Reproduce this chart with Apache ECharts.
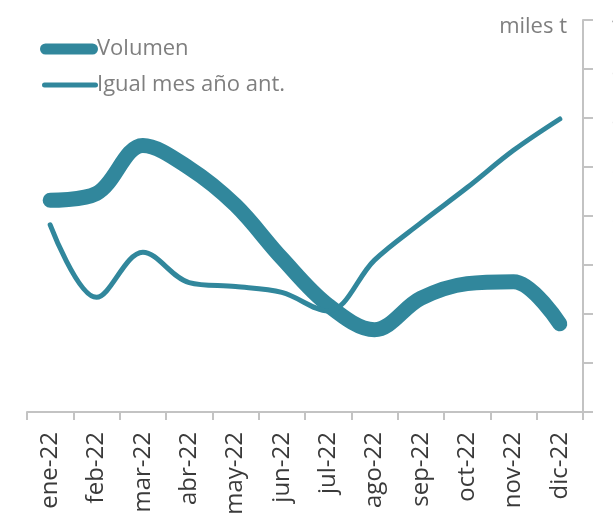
<!DOCTYPE html>
<html>
<head>
<meta charset="utf-8">
<script src="https://cdn.jsdelivr.net/npm/echarts@6/dist/echarts.min.js"></script>
<style>
  html, body { margin: 0; padding: 0; background: #ffffff; }
  #chart { width: 613px; height: 518px; }
</style>
</head>
<body>
<div id="chart"></div>
<script>
// Monthly volume (miles t) for 2022 and the same month of the previous year
var months = ['ene-22', 'feb-22', 'mar-22', 'abr-22', 'may-22', 'jun-22',
              'jul-22', 'ago-22', 'sep-22', 'oct-22', 'nov-22', 'dic-22'];
var volumen = [216, 223, 272, 249, 211, 157, 109, 84, 116, 131, 133, 90];
var igualMesAnoAnt = [191, 117, 163, 132, 128, 122, 103, 155, 193, 229, 267, 299];
var yTicks = { min: 0, max: 400, interval: 50 };

var teal = '#31879c';
var grayText = '#7f7f7f';
var axisGray = '#c3c3c3';
var font = 'Open Sans';

var chart = echarts.init(document.getElementById('chart'), null, { renderer: 'canvas' });

chart.setOption({
  backgroundColor: '#ffffff',
  animation: false,
  grid: {
    left: 27, right: 30, top: 20, bottom: 106,
    containLabel: false,
    outerBoundsMode: 'none'
  },
  legend: [
    {
      data: ['Volumen'],
      left: 35, top: 33,
      itemWidth: 58, itemHeight: 11,
      icon: 'path://M5.5,0 L52.5,0 A5.5,5.5 0 0 1 52.5,11 L5.5,11 A5.5,5.5 0 0 1 5.5,0 Z',
      itemStyle: { color: teal },
      textStyle: { color: grayText, fontSize: 22, fontFamily: font, padding: [0, 0, 0, -6] },
      selectedMode: false
    },
    {
      data: ['Igual mes año ant.'],
      left: 37, top: 69,
      itemWidth: 56, itemHeight: 5,
      icon: 'path://M2.5,0 L53.5,0 A2.5,2.5 0 0 1 53.5,5 L2.5,5 A2.5,2.5 0 0 1 2.5,0 Z',
      itemStyle: { color: teal },
      textStyle: { color: grayText, fontSize: 22, fontFamily: font, padding: [0, 0, 0, -6] },
      selectedMode: false
    }
  ],
  xAxis: {
    type: 'category',
    data: months,
    boundaryGap: true,
    axisLine: { show: true, lineStyle: { color: axisGray, width: 2 } },
    axisTick: { show: true, length: 8, lineStyle: { color: axisGray, width: 2 } },
    axisLabel: {
      rotate: 90,
      margin: 20,
      color: '#3a3a3a',
      fontSize: 24,
      fontFamily: font,
      interval: 0
    },
    splitLine: { show: false }
  },
  yAxis: {
    type: 'value',
    position: 'right',
    min: yTicks.min, max: yTicks.max, interval: yTicks.interval,
    name: 'miles t',
    nameLocation: 'end',
    nameGap: -7,
    nameTextStyle: {
      color: grayText, fontSize: 22, fontFamily: font,
      align: 'right', verticalAlign: 'middle', padding: [0, 16, 0, 0]
    },
    axisLine: { show: true, lineStyle: { color: axisGray, width: 2 } },
    axisTick: { show: true, length: 10, lineStyle: { color: axisGray, width: 2 } },
    axisLabel: { margin: 29, color: grayText, fontSize: 20, fontFamily: font },
    splitLine: { show: false }
  },
  series: [
    {
      name: 'Volumen',
      type: 'line',
      data: volumen,
      smooth: 0.35,
      symbol: 'none',
      lineStyle: { color: teal, width: 15, cap: 'round', join: 'round' },
      itemStyle: { color: teal },
      z: 3
    },
    {
      name: 'Igual mes año ant.',
      type: 'line',
      data: igualMesAnoAnt,
      smooth: 0.35,
      symbol: 'none',
      lineStyle: { color: teal, width: 5, cap: 'round', join: 'round' },
      itemStyle: { color: teal },
      z: 4
    }
  ]
});
</script>
</body>
</html>
